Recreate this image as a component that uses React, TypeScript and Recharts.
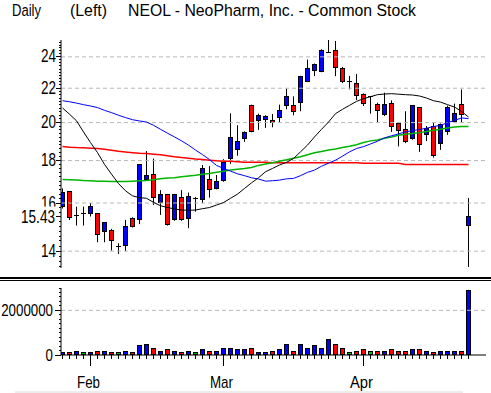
import React from "react";
import { ComposedChart, Bar, Line, XAxis, YAxis, ReferenceLine } from "recharts";

// trading days per month shown (Jan tail, Feb, Mar, Apr)
const monthNames = ["Jan", "Feb", "Mar", "Apr"];
const monthBars = [4, 19, 20, 16];

const open = [
  15.84, 16.54, 15.44, 15.55, 15.55, 15.55, 14.79, 14.84, 14.18, 14.24,
  15.34, 15.3, 17.1, 17.33, 16.02, 16.39, 15.27, 16.26, 15.33, 16.22,
  16.17, 17.08, 16.65, 17.02, 18.08, 18.56, 19.12, 20.96, 20.09, 20.17,
  20.13, 20.26, 20.98, 20.98, 21.13, 22.44, 23.12, 23.06, 24.3, 24.46,
  23.21, 22.4, 22.28, 21.61, 21.49, 21.02, 20.43, 21.08, 19.94, 19.6,
  19.12, 20.85, 19.34, 19.81, 18.87, 19.49, 20.07, 21.02, 15.05,
];
const high = [
  16.66, 16.54, 15.84, 15.84, 16.0, 15.55, 15.17, 14.89, 14.31, 15.27,
  15.38, 17.81, 18.48, 18.1, 16.58, 16.39, 16.39, 16.58, 16.47, 16.27,
  17.78, 17.72, 17.29, 18.07, 20.52, 19.85, 19.52, 21.02, 20.5, 20.41,
  20.48, 21.02, 21.97, 21.51, 22.77, 23.82, 23.56, 24.51, 25.15, 25.08,
  23.34, 22.77, 22.89, 21.69, 21.49, 21.13, 21.73, 21.27, 19.99, 20.64,
  20.96, 20.85, 19.81, 19.99, 19.95, 20.96, 21.08, 21.93, 16.22,
];
const low = [
  15.76, 15.26, 15.03, 15.03, 15.41, 14.35, 14.35, 14.02, 13.89, 14.0,
  14.95, 15.09, 17.05, 15.91, 15.48, 15.03, 15.23, 15.23, 14.92, 15.62,
  16.0, 16.24, 16.62, 16.97, 17.84, 18.24, 18.96, 19.47, 19.6, 19.71,
  19.74, 19.99, 20.75, 20.41, 20.64, 22.38, 22.75, 23.0, 24.27, 22.75,
  22.32, 21.93, 21.29, 20.94, 20.5, 20.01, 20.37, 19.49, 18.72, 18.89,
  19.07, 18.44, 19.0, 18.15, 18.54, 19.33, 19.99, 19.99, 13.4,
];
const close = [
  16.47, 15.37, 15.46, 15.55, 15.86, 14.68, 15.17, 14.4, 14.18, 15.0,
  15.0, 17.81, 17.28, 16.26, 16.39, 15.06, 16.39, 15.3, 16.3, 16.22,
  17.61, 16.62, 16.99, 17.92, 19.19, 18.98, 19.45, 19.52, 20.4, 20.36,
  19.99, 20.68, 21.49, 20.6, 22.71, 23.21, 23.47, 24.46, 24.32, 23.28,
  22.4, 22.4, 21.55, 21.06, 21.49, 20.66, 21.02, 19.78, 19.54, 18.96,
  20.96, 18.82, 19.7, 18.27, 19.88, 20.87, 20.5, 20.45, 15.43,
];
const volume = [
  90000, 90000, 135000, 90000, 90000, 135000, 135000, 90000, 90000, 135000,
  90000, 403000, 492000, 313000, 135000, 224000, 135000, 90000, 179000, 90000,
  224000, 179000, 179000, 313000, 313000, 224000, 224000, 269000, 90000, 90000,
  135000, 224000, 492000, 179000, 448000, 313000, 403000, 269000, 716000, 448000,
  269000, 90000, 179000, 224000, 135000, 135000, 179000, 224000, 135000, 179000,
  224000, 224000, 135000, 90000, 135000, 135000, 179000, 179000, 2866000,
];

// moving averages, by line colour
const avgBlack = [
  20.83, 20.47, 20.1, 19.49, 18.92, 18.4, 17.81, 17.33, 16.89, 16.55,
  16.32, 16.24, 16.21, 16.03, 15.88, 15.8, 15.74, 15.69, 15.68, 15.69,
  15.75, 15.8, 15.91, 16.02, 16.21, 16.4, 16.66, 16.92, 17.16, 17.45,
  17.61, 17.78, 17.91, 18.1, 18.44, 18.79, 19.22, 19.63, 20.03, 20.5,
  20.75, 20.98, 21.21, 21.37, 21.49, 21.61, 21.65, 21.67, 21.64, 21.61,
  21.59, 21.53, 21.41, 21.25, 21.17, 21.02, 20.88, 20.63, 20.31,
];
const avgBlue = [
  21.25, 21.19, 21.11, 21.02, 20.94, 20.85, 20.69, 20.56, 20.41, 20.28,
  20.16, 20.09, 20.03, 19.85, 19.63, 19.42, 19.22, 19.01, 18.79, 18.53,
  18.3, 18.05, 17.76, 17.61, 17.48, 17.35, 17.26, 17.16, 17.1, 17.0,
  17.02, 17.05, 17.11, 17.13, 17.26, 17.42, 17.53, 17.72, 17.87, 18.02,
  18.22, 18.44, 18.61, 18.71, 18.85, 18.99, 19.17, 19.28, 19.38, 19.49,
  19.56, 19.62, 19.69, 19.78, 19.85, 19.99, 20.12, 20.26, 20.22,
];
const avgGreen = [
  17.08, 17.07, 17.05, 17.03, 17.02, 17.0, 17.0, 16.98, 16.98, 16.98,
  17.0, 17.02, 17.03, 17.07, 17.11, 17.15, 17.16, 17.21, 17.25, 17.28,
  17.33, 17.36, 17.42, 17.47, 17.53, 17.57, 17.61, 17.66, 17.76, 17.83,
  17.89, 17.97, 18.04, 18.12, 18.19, 18.29, 18.39, 18.46, 18.53, 18.59,
  18.66, 18.73, 18.81, 18.92, 19.01, 19.06, 19.15, 19.22, 19.31, 19.36,
  19.4, 19.45, 19.51, 19.58, 19.63, 19.7, 19.76, 19.78, 19.78,
];
const avgRed = [
  18.71, 18.68, 18.66, 18.65, 18.63, 18.61, 18.57, 18.52, 18.47, 18.43,
  18.4, 18.37, 18.35, 18.32, 18.29, 18.24, 18.19, 18.15, 18.12, 18.08,
  18.05, 18.02, 17.99, 17.97, 17.96, 17.94, 17.92, 17.92, 17.91, 17.91,
  17.89, 17.89, 17.89, 17.89, 17.89, 17.89, 17.89, 17.89, 17.89, 17.89,
  17.89, 17.89, 17.89, 17.86, 17.86, 17.86, 17.86, 17.86, 17.86, 17.81,
  17.81, 17.81, 17.81, 17.81, 17.81, 17.81, 17.81, 17.81, 17.81,
];

const majorPrices = [14, 16, 18, 20, 22, 24];
const volumeLabels = [0, 2000000];

const FONT = "'Liberation Sans', Arial, sans-serif";
const UP = "#0000ff";
const DOWN = "#ff0000";
const FLAT = "#00c000";
const GRID = "#b8b8b8";

const rows = close.map((c, i) => ({
  i,
  open: open[i],
  high: high[i],
  low: low[i],
  close: c,
  vol: volume[i],
  black: avgBlack[i],
  blue: avgBlue[i],
  green: avgGreen[i],
  red: avgRed[i],
}));

const lastClose = close[close.length - 1];
const xDomain: [number, number] = [-1.5 / 7, -1.5 / 7 + 425 / 7];
const priceDomain: [number, number] = [13.36, 25.15];

const priceTicks: number[] = [];
for (let v = 134; v <= 250; v += 2) priceTicks.push(v / 10);
priceTicks.push(lastClose);

const volTicks: number[] = [];
for (let v = 0; v <= 3000000; v += 200000) volTicks.push(v);

const monthStarts: { i: number; label: string }[] = [];
let acc = 0;
monthBars.forEach((n, m) => {
  if (m > 0) monthStarts.push({ i: acc, label: monthNames[m] });
  acc += n;
});
const dayTicks = rows.map((r) => r.i);

const snap = (v: number) => Math.round(v - 0.5) + 0.5;
const colorOf = (d: any) => (d.close > d.open ? UP : d.close < d.open ? DOWN : FLAT);

const Wick = (p: any) => {
  const cx = snap(p.x + p.width / 2);
  const top = Math.min(p.y, p.y + p.height);
  const h = Math.abs(p.height);
  return <line x1={cx} x2={cx} y1={top} y2={top + h} stroke="#000" strokeWidth={1} />;
};

const Body = (p: any) => {
  const d = p.payload;
  const cx = snap(p.x + p.width / 2);
  const top = Math.min(p.y, p.y + p.height);
  const h = Math.abs(p.height);
  if (h < 1.5) {
    const y = snap(top + h / 2);
    return <line x1={cx - 2.5} x2={cx + 2.5} y1={y} y2={y} stroke="#000" strokeWidth={1} />;
  }
  const y0 = snap(top);
  const y1 = snap(top + h);
  return (
    <rect x={cx - 2} y={y0} width={4} height={y1 - y0} fill={colorOf(d)} stroke="#000" strokeWidth={1} />
  );
};

const VolBar = (p: any) => {
  const cx = snap(p.x + p.width / 2);
  const top = Math.min(p.y, p.y + p.height);
  const bottom = top + Math.abs(p.height);
  const y0 = snap(top);
  const y1 = Math.round(bottom) - 0.5;
  return (
    <rect x={cx - 2} y={y0} width={4} height={Math.max(y1 - y0, 1)} fill={colorOf(p.payload)} stroke="#000" strokeWidth={1} />
  );
};

const PriceTick = (p: any) => {
  const { x, y, payload } = p;
  const v = payload.value;
  const yy = snap(y);
  if (v === lastClose) {
    return (
      <g>
        <rect x={17} y={y - 9.5} width={40} height={18.5} fill="#fff" />
        <line x1={x - 5} x2={x} y1={yy} y2={yy} stroke="#000" />
        <text x={55} y={y + 6.6} fontSize={19} fontFamily={FONT} textAnchor="end" fill="#000" textLength={34} lengthAdjust="spacingAndGlyphs">
          {v.toFixed(2)}
        </text>
      </g>
    );
  }
  if (majorPrices.includes(v)) {
    return (
      <g>
        <line x1={x - 5} x2={x} y1={yy} y2={yy} stroke="#000" />
        <text x={56} y={y + 5.5} fontSize={19} fontFamily={FONT} textAnchor="end" fill="#000" textLength={15} lengthAdjust="spacingAndGlyphs">
          {String(v)}
        </text>
      </g>
    );
  }
  return <line x1={x - 2} x2={x} y1={yy} y2={yy} stroke="#000" />;
};

const VolTick = (p: any) => {
  const { x, y, payload } = p;
  const v = payload.value;
  const yy = snap(y);
  if (volumeLabels.includes(v)) {
    const label = String(v);
    return (
      <g>
        <line x1={x - 6} x2={x} y1={yy} y2={yy} stroke="#000" />
        <text x={53} y={y + 5.5} fontSize={17} fontFamily={FONT} textAnchor="end" fill="#000" textLength={label.length * 7.4} lengthAdjust="spacingAndGlyphs">
          {label}
        </text>
      </g>
    );
  }
  return <line x1={x - 2} x2={x} y1={yy} y2={yy} stroke="#000" />;
};

const DayTick = (p: any) => {
  const { x, y, payload } = p;
  const cx = snap(x);
  const start = monthStarts.find((m) => m.i === payload.value);
  if (start) {
    return (
      <g>
        <line x1={cx} x2={cx} y1={y} y2={y + 11} stroke="#000" />
        <text x={x - 2} y={y + 32.5} fontSize={17} fontFamily={FONT} textAnchor="middle" fill="#000" textLength={23} lengthAdjust="spacingAndGlyphs">
          {start.label}
        </text>
      </g>
    );
  }
  return <line x1={cx} x2={cx} y1={y} y2={y + 4} stroke="#000" />;
};

export default function App() {
  return (
    <div style={{ position: "absolute", left: 0, top: 0, width: 491, height: 393, background: "#fff", overflow: "hidden" }}>
      <svg width={491} height={22} style={{ position: "absolute", left: 0, top: 0 }}>
        <text x={12} y={16} fontSize={16.8} fontFamily={FONT} fill="#000" textLength={29} lengthAdjust="spacingAndGlyphs">Daily</text>
        <text x={70} y={16} fontSize={16.8} fontFamily={FONT} fill="#000" textLength={37} lengthAdjust="spacingAndGlyphs">(Left)</text>
        <text x={128} y={16} fontSize={16.8} fontFamily={FONT} fill="#000" textLength={288} lengthAdjust="spacingAndGlyphs">
          NEOL - NeoPharm, Inc. - Common Stock
        </text>
      </svg>

      <div style={{ position: "absolute", left: 0, top: 0 }}>
        <ComposedChart width={491} height={276} data={rows} margin={{ top: 40, right: 5, bottom: 8, left: 0 }}>
          <XAxis xAxisId="w" dataKey="i" type="number" domain={xDomain} allowDataOverflow hide />
          <XAxis xAxisId="b" dataKey="i" type="number" domain={xDomain} allowDataOverflow hide />
          <YAxis
            scale="log"
            domain={priceDomain}
            allowDataOverflow
            ticks={priceTicks}
            interval={0}
            width={61}
            tickSize={0}
            tickMargin={0}
            tickLine={false}
            axisLine={{ stroke: "#000" }}
            tick={<PriceTick />}
          />
          {majorPrices.map((v) => (
            <ReferenceLine key={v} xAxisId="w" y={v} stroke={GRID} strokeDasharray="4 3" />
          ))}
          <Bar xAxisId="w" dataKey={(d: any) => [d.low, d.high]} barSize={1} shape={Wick} isAnimationActive={false} />
          <Bar
            xAxisId="b"
            dataKey={(d: any) => [Math.min(d.open, d.close), Math.max(d.open, d.close)]}
            barSize={5}
            shape={Body}
            isAnimationActive={false}
          />
          <Line xAxisId="w" type="linear" dataKey="red" stroke="#ff0000" strokeWidth={1.5} dot={false} activeDot={false} isAnimationActive={false} />
          <Line xAxisId="w" type="linear" dataKey="green" stroke="#00b400" strokeWidth={1.5} dot={false} activeDot={false} isAnimationActive={false} />
          <Line xAxisId="w" type="linear" dataKey="blue" stroke="#0000ff" strokeWidth={1} dot={false} activeDot={false} isAnimationActive={false} />
          <Line xAxisId="w" type="linear" dataKey="black" stroke="#000000" strokeWidth={1} dot={false} activeDot={false} isAnimationActive={false} />
        </ComposedChart>
      </div>

      <div style={{ position: "absolute", left: 0, top: 277, width: 491, height: 2, background: "#000" }} />
      <div style={{ position: "absolute", left: 0, top: 280, width: 491, height: 1, background: "#000" }} />

      <div style={{ position: "absolute", left: 0, top: 281 }}>
        <ComposedChart width={491} height={112} data={rows} margin={{ top: 7, right: 5, bottom: 0, left: 0 }}>
          <XAxis
            dataKey="i"
            type="number"
            domain={xDomain}
            allowDataOverflow
            ticks={dayTicks}
            interval={0}
            height={38}
            tickSize={0}
            tickMargin={0}
            tickLine={false}
            axisLine={{ stroke: "#000" }}
            tick={<DayTick />}
          />
          <YAxis
            domain={[0, 3000000]}
            allowDataOverflow
            ticks={volTicks}
            interval={0}
            width={61}
            tickSize={0}
            tickMargin={0}
            tickLine={false}
            axisLine={{ stroke: "#000" }}
            tick={<VolTick />}
          />
          <ReferenceLine y={2000000} stroke={GRID} strokeDasharray="4 3" />
          <Bar dataKey="vol" barSize={5} shape={VolBar} isAnimationActive={false} />
        </ComposedChart>
      </div>

      <div style={{ position: "absolute", left: 15, top: 391, width: 448, height: 2, background: "#ececec" }} />
    </div>
  );
}
